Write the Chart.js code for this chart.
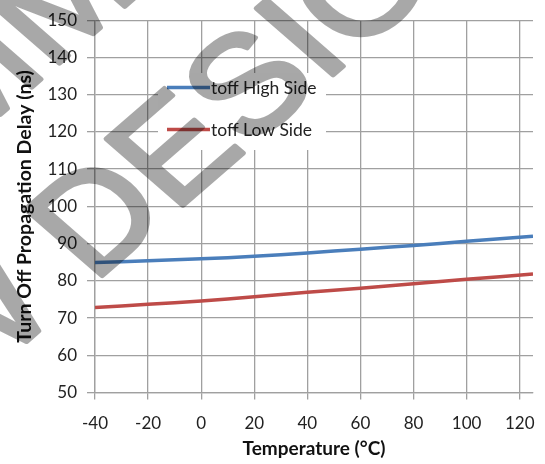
<!DOCTYPE html>
<html>
<head>
<meta charset="utf-8">
<script src="https://cdn.jsdelivr.net/npm/chart.js@4.4.1/dist/chart.umd.min.js"></script>
<style>
  html, body { margin: 0; padding: 0; background: #fff; }
  #wrap { width: 545px; height: 464px; position: relative; }
</style>
</head>
<body>
<div id="wrap"><canvas id="c" width="545" height="464"></canvas></div>
<script>
// ---- data ----
const TEMPS = [-40, -20, 0, 20, 40, 60, 80, 100, 125];
const TOFF_HIGH = [84.9, 85.4, 85.9, 86.6, 87.5, 88.5, 89.5, 90.6, 92.0];
const TOFF_LOW = [72.8, 73.7, 74.6, 75.7, 76.9, 78.0, 79.2, 80.4, 81.8];
const SERIES_NAMES = ['toff High Side', 'toff Low Side'];
const SERIES_COLORS = ['#4a7ebb', '#be4b48'];
const X_TITLE = 'Temperature (°C)';
const Y_TITLE = 'Turn Off Propagation Delay (ns)';
const WATERMARK = ['NOT RECOMMENDED FOR', 'NEW DESIGNS'];

const GRID = '#a0a0a0';
const FONT = 'Lato, "Open Sans", sans-serif';

const pts = (ys) => TEMPS.map((t, i) => ({ x: t, y: ys[i] }));

/* legend box sitting inside the plot, like the Excel one */
const legendBox = {
  id: 'legendBox',
  beforeDatasetsDraw(chart) {
    const ctx = chart.ctx;
    ctx.save();
    ctx.fillStyle = '#fff';
    ctx.fillRect(158, 73, 168, 77);
    ctx.lineCap = 'butt';
    ctx.lineWidth = 3.5;
    ctx.font = '17.5px ' + FONT;
    ctx.textBaseline = 'middle';
    SERIES_NAMES.forEach((name, i) => {
      const y = 87.5 + i * 42;
      ctx.strokeStyle = SERIES_COLORS[i];
      ctx.beginPath(); ctx.moveTo(167, y); ctx.lineTo(210, y); ctx.stroke();
      ctx.fillStyle = '#222';
      ctx.fillText(name, 211, y + 1);
    });
    ctx.restore();
  }
};

/* big diagonal grey watermark laid over everything (drawn opaque off-screen, then blended) */
const watermark = {
  id: 'watermark',
  afterDraw(chart) {
    const W = chart.width, H = chart.height;
    const off = document.createElement('canvas');
    off.width = W; off.height = H;
    const o = off.getContext('2d');
    o.translate(93, 284);
    o.scale(1, 0.87);
    o.rotate(-Math.PI / 4);
    o.font = '158px "Liberation Sans", Arial, sans-serif';
    o.fillStyle = '#000'; o.strokeStyle = '#000';
    o.lineWidth = 5; o.lineJoin = 'round';
    const lowX = -o.measureText('NEW ').width;
    const upX = 11 - o.measureText('NOT RECO').width;
    o.fillText(WATERMARK[1], lowX, 0); o.strokeText(WATERMARK[1], lowX, 0);
    o.fillText(WATERMARK[0], upX, -203); o.strokeText(WATERMARK[0], upX, -203);
    const ctx = chart.ctx;
    ctx.save();
    ctx.setTransform(1, 0, 0, 1, 0, 0);
    ctx.globalAlpha = 0.34;
    ctx.drawImage(off, 0, 0);
    ctx.restore();
  }
};

new Chart(document.getElementById('c'), {
  type: 'line',
  data: {
    datasets: [
      { label: SERIES_NAMES[0], data: pts(TOFF_HIGH), borderColor: SERIES_COLORS[0], borderWidth: 3.5, tension: 0.4, pointRadius: 0, fill: false },
      { label: SERIES_NAMES[1], data: pts(TOFF_LOW), borderColor: SERIES_COLORS[1], borderWidth: 3.5, tension: 0.4, pointRadius: 0, fill: false }
    ]
  },
  options: {
    responsive: false, animation: false, devicePixelRatio: 1,
    layout: { padding: { top: 18, right: 12, left: 0, bottom: 0 } },
    plugins: { legend: { display: false }, tooltip: { enabled: false } },
    scales: {
      x: {
        type: 'linear', min: -40, max: 125,
        afterFit: (s) => { s.height = 71.5; s.paddingLeft = 0; s.paddingRight = 0; },
        ticks: { stepSize: 20, includeBounds: false, autoSkip: false, color: '#222', font: { family: FONT, size: 17 }, padding: 14, maxRotation: 0 },
        grid: { color: GRID, lineWidth: 1.3, tickLength: 7 },
        border: { color: GRID, width: 1.3 },
        title: { display: true, text: X_TITLE, color: '#111', font: { family: FONT, size: 19, weight: 'bold' }, padding: { top: 0, bottom: 4 } }
      },
      y: {
        min: 50, max: 150,
        afterFit: (s) => { s.width = 95; },
        ticks: { stepSize: 10, autoSkip: false, color: '#222', font: { family: FONT, size: 17 }, padding: 10 },
        grid: { color: GRID, lineWidth: 1.3, tickLength: 8 },
        border: { color: GRID, width: 1.3 },
        title: { display: true, text: Y_TITLE, color: '#111', font: { family: FONT, size: 19.5, weight: 'bold' }, padding: { top: 13, bottom: 0 } }
      }
    }
  },
  plugins: [legendBox, watermark]
});
</script>
</body>
</html>
